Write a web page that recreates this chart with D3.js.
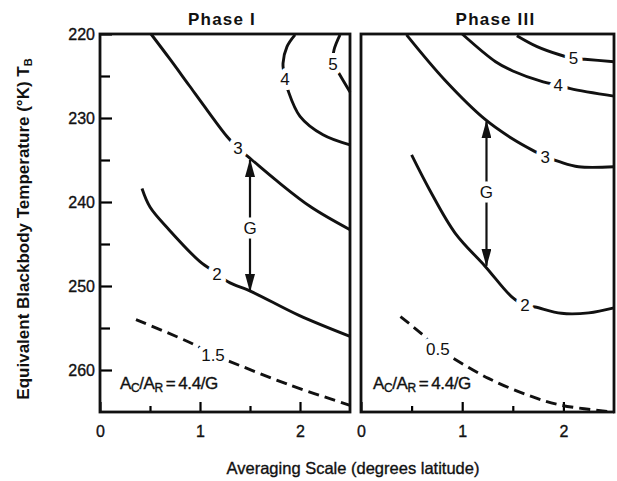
<!DOCTYPE html>
<html>
<head>
<meta charset="utf-8">
<script src="https://cdn.jsdelivr.net/npm/d3@7"></script>
<style>
  body { margin: 0; background: #fff; }
  svg text { font-family: "Liberation Sans", Arial, Helvetica, sans-serif; fill: #111; }
</style>
</head>
<body>
<div id="chart"></div>
<script>
// tick values
const xTicks = [0, 1, 2];
const xMinor = [0.5, 1.5];
const yTicks = [220, 230, 240, 250, 260];
const yMinor = [225, 235, 245, 255];

// contours: [averaging scale, T_B]
const p1_level3 = [[0.51, 220], [0.7, 223], [0.89, 226.1], [1.08, 229.2], [1.27, 232.2], [1.38, 233.6], [1.52, 235.0], [1.76, 237.4], [2.11, 240.6], [2.5, 243.3]];
const p1_level2 = [[0.42, 238.4], [0.5, 240.6], [0.69, 243.3], [1.0, 247.1], [1.17, 248.5], [1.28, 249.5], [1.52, 250.7], [1.99, 253.5], [2.5, 256.0]];
const p1_level15 = [[0.36, 254.0], [0.93, 256.9], [1.13, 258.2], [1.3, 259.0], [1.9, 261.8], [2.5, 264.2]];
const p1_level4 = [[1.95, 220.1], [1.87, 221.5], [1.83, 223.5], [1.85, 225.3], [1.88, 226.7], [2.0, 229.8], [2.23, 232.0], [2.5, 233.2]];
const p1_level5 = [[2.4, 220.1], [2.34, 221.9], [2.33, 223.5], [2.38, 224.5], [2.5, 226.9]];

const p3_level3 = [[0.45, 220.1], [0.83, 225.5], [1.23, 230.2], [1.5, 232.5], [1.72, 234.0], [1.82, 234.6], [1.96, 235.2], [2.15, 235.8], [2.5, 235.8]];
const p3_level4 = [[1.0, 220.0], [1.33, 223.3], [1.5, 224.4], [1.8, 225.7], [1.95, 226.1], [2.07, 226.5], [2.5, 227.4]];
const p3_level5 = [[1.54, 220.2], [1.74, 221.5], [1.97, 222.5], [2.1, 222.9], [2.21, 223.0], [2.5, 223.3]];
const p3_level2 = [[0.5, 234.4], [0.68, 238.6], [0.93, 243.7], [1.23, 247.7], [1.49, 251.3], [1.62, 252.3], [1.72, 252.5], [1.98, 253.25], [2.25, 253.2], [2.5, 252.6]];
const p3_level05 = [[0.39, 253.65], [0.6, 255.7], [0.76, 257.5], [0.91, 258.6], [1.26, 261.0], [1.65, 263.0], [1.98, 264.2], [2.5, 265.0]];

// label text and the point of each contour it sits on
const p1_contours = [
  { label: "3", pts: p1_level3, at: 5, dashed: false },
  { label: "2", pts: p1_level2, at: 4, dashed: false },
  { label: "1.5", pts: p1_level15, at: 2, dashed: true },
  { label: "4", pts: p1_level4, at: 3, dashed: false },
  { label: "5", pts: p1_level5, at: 2, dashed: false }
];
const p3_contours = [
  { label: "3", pts: p3_level3, at: 5, dashed: false },
  { label: "4", pts: p3_level4, at: 4, dashed: false },
  { label: "5", pts: p3_level5, at: 3, dashed: false },
  { label: "2", pts: p3_level2, at: 5, dashed: false },
  { label: "0.5", pts: p3_level05, at: 2, dashed: true }
];

// G arrows: [x, T top, T bottom, T of letter]
const p1_arrow = [1.5, 235.0, 250.6, 243.1];
const p3_arrow = [1.24, 230.4, 247.6, 238.8];

const width = 617, height = 481;

const svg = d3.select("#chart").append("svg")
    .attr("width", width)
    .attr("height", height);

const defs = svg.append("defs");
defs.append("marker")
    .attr("id", "head")
    .attr("viewBox", "0 0 18 10")
    .attr("refX", 17).attr("refY", 5)
    .attr("markerWidth", 18).attr("markerHeight", 10)
    .attr("markerUnits", "userSpaceOnUse")
    .attr("orient", "auto-start-reverse")
  .append("path")
    .attr("d", "M0,0 L18,5 L0,10 Z")
    .attr("fill", "#111");

const y = d3.scaleLinear().domain([220, 265]).range([34, 412]);

const panels = [
  { title: "Phase I", titleShift: -3, x: d3.scaleLinear().domain([0, 2.5]).range([100, 350]), contours: p1_contours, arrow: p1_arrow, yAxis: true },
  { title: "Phase III", titleShift: 8, x: d3.scaleLinear().domain([0, 2.5]).range([361, 614]), contours: p3_contours, arrow: p3_arrow, yAxis: false }
];

// slightly heavier text, like the printed original
const ink = sel => sel.attr("stroke", "#111").attr("stroke-width", 0.35);

panels.forEach(p => {
  const g = svg.append("g");
  const x = p.x;
  const [x0, x1] = x.range();

  // title
  g.append("text")
      .attr("x", (x0 + x1) / 2 + p.titleShift)
      .attr("y", 25)
      .attr("text-anchor", "middle")
      .style("font-size", "17px")
      .style("font-weight", "bold")
      .style("letter-spacing", "1.2px")
      .text(p.title);

  // x axis
  g.append("g")
      .attr("transform", `translate(0,${y(265)})`)
      .call(d3.axisBottom(x).tickValues(xTicks).tickSize(-10).tickPadding(14).tickFormat(d3.format("d")))
      .call(a => a.select(".domain").remove())
      .call(a => a.selectAll("line").attr("stroke-width", 2.2))
      .call(a => a.selectAll("text").style("font-size", "16px").attr("fill", "#111").call(ink));
  g.append("g")
      .attr("transform", `translate(0,${y(265)})`)
      .call(d3.axisBottom(x).tickValues(xMinor).tickSize(-6).tickFormat(""))
      .call(a => a.select(".domain").remove())
      .call(a => a.selectAll("line").attr("stroke-width", 2.2));

  if (p.yAxis) {
    g.append("g")
        .attr("transform", `translate(${x0},0)`)
        .call(d3.axisLeft(y).tickValues(yTicks).tickSize(-12).tickPadding(5))
        .call(a => a.select(".domain").remove())
        .call(a => a.selectAll("line").attr("stroke-width", 2.2))
        .call(a => a.selectAll("text").style("font-size", "16px").attr("fill", "#111").call(ink));
    g.append("g")
        .attr("transform", `translate(${x0},0)`)
        .call(d3.axisLeft(y).tickValues(yMinor).tickSize(-10).tickFormat(""))
        .call(a => a.select(".domain").remove())
        .call(a => a.selectAll("line").attr("stroke-width", 2.2));
  }

  // frame
  g.append("rect")
      .attr("x", x0).attr("y", y(220))
      .attr("width", x1 - x0).attr("height", y(265) - y(220))
      .attr("fill", "none")
      .attr("stroke", "#111")
      .attr("stroke-width", 2.8);

  const lineCR = d3.line()
      .x(d => x(d[0]))
      .y(d => y(d[1]))
      .curve(d3.curveCatmullRom);

  // contour lines
  g.selectAll(".contour")
    .data(p.contours)
    .enter().append("path")
      .attr("class", "contour")
      .attr("d", d => lineCR(d.pts))
      .attr("fill", "none")
      .attr("stroke", "#111")
      .attr("stroke-width", 2.9)
      .attr("stroke-dasharray", d => d.dashed ? "11,6" : null);

  // contour labels with a white halo to break the line
  g.selectAll(".clabel")
    .data(p.contours)
    .enter().append("text")
      .attr("class", "clabel")
      .attr("x", d => x(d.pts[d.at][0]))
      .attr("y", d => y(d.pts[d.at][1]))
      .attr("dy", "0.36em")
      .attr("text-anchor", "middle")
      .style("font-size", "17px")
      .style("paint-order", "stroke")
      .attr("stroke", "#fff")
      .attr("stroke-width", 10)
      .attr("stroke-linejoin", "round")
      .text(d => d.label);

  // G arrow
  const [ax, aTop, aBot, aG] = p.arrow;
  g.append("line")
      .attr("x1", x(ax)).attr("x2", x(ax))
      .attr("y1", y(aTop)).attr("y2", y(aBot))
      .attr("stroke", "#111")
      .attr("stroke-width", 2.2)
      .attr("marker-start", "url(#head)")
      .attr("marker-end", "url(#head)");
  g.append("text")
      .attr("x", x(ax))
      .attr("y", y(aG))
      .attr("dy", "0.36em")
      .attr("text-anchor", "middle")
      .style("font-size", "17px")
      .style("paint-order", "stroke")
      .attr("stroke", "#fff")
      .attr("stroke-width", 9)
      .text("G");

  // ratio note
  const note = g.append("text")
      .attr("x", x0 + 20 - (p.yAxis ? 0 : 8))
      .attr("y", 389)
      .style("font-size", "17px")
      .style("letter-spacing", "-0.4px")
      .call(ink);
  note.append("tspan").text("A");
  note.append("tspan").attr("baseline-shift", "-25%").style("font-size", "12px").text("C");
  note.append("tspan").text("/A");
  note.append("tspan").attr("baseline-shift", "-25%").style("font-size", "12px").text("R");
  note.append("tspan").text("\u2009=\u20094.4/G");
});

// axis titles
svg.append("text")
    .attr("x", 353)
    .attr("y", 474)
    .attr("text-anchor", "middle")
    .style("font-size", "16.5px")
    .call(ink)
    .text("Averaging Scale (degrees latitude)");

const yTitle = svg.append("text")
    .attr("transform", "translate(29,229) rotate(-90)")
    .attr("text-anchor", "middle")
    .style("font-size", "17px")
    .style("font-weight", "bold");
yTitle.append("tspan").text("Equivalent Blackbody Temperature (°K) T");
yTitle.append("tspan").attr("baseline-shift", "-25%").style("font-size", "11px").text("B");
</script>
</body>
</html>
